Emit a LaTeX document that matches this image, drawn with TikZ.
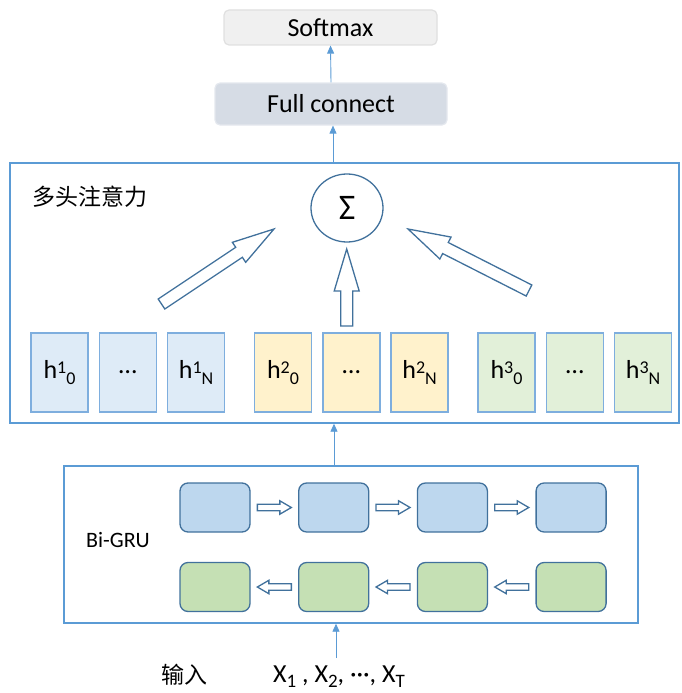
\documentclass[tikz,border=0pt]{standalone}
\usepackage{fontspec}
\setmainfont{Carlito}
\newfontfamily\cjk{Noto Sans CJK SC}
\usetikzlibrary{arrows.meta,calc,shapes.geometric}

\definecolor{frameblue}{HTML}{5B9BD5}
\definecolor{edgeblue}{HTML}{41719C}
\definecolor{cellblue}{HTML}{DEEBF7}
\definecolor{cellyellow}{HTML}{FFF2CC}
\definecolor{cellgreen}{HTML}{E2F0D9}
\definecolor{cellborder}{HTML}{7EAEDE}
\definecolor{grublue}{HTML}{BDD7EE}
\definecolor{grugreen}{HTML}{C5E0B4}
\definecolor{smfill}{HTML}{F0F0F0}
\definecolor{smedge}{HTML}{E0E0E0}
\definecolor{fcfill}{HTML}{D6DCE5}
\definecolor{fcedge}{HTML}{E4E8EE}

\tikzset{
  topbox/.style={rounded corners=5pt, line width=1.2pt, inner sep=0pt,
    minimum height=#1, font=\fontsize{26}{30}\selectfont},
  frame/.style={draw=frameblue, line width=1.4pt, inner sep=0pt},
  cell/.style={draw=cellborder, line width=1.4pt, inner sep=0pt,
    minimum width=57pt, minimum height=79pt, font=\fontsize{26}{30}\selectfont},
  grucell/.style={draw=edgeblue, line width=1.3pt, rounded corners=8pt,
    inner sep=0pt, minimum width=70pt, minimum height=49pt},
  conn/.style={draw=frameblue, line width=0.9pt,
    -{Triangle[length=8pt,width=7pt]}},
  blockarrow/.style={draw=edgeblue, line width=1.3pt, fill=white, line join=miter},
}

% hollow block arrow: start, tip, shaft half width, head half width, head length
\newcommand\hollowarrow[5]{%
  \coordinate (ha-base) at ($(#2)!#5!(#1)$);
  \draw[blockarrow]
    ($(#1)!#3!90:(#2)$) -- ($(ha-base)!#3!90:(#2)$) -- ($(ha-base)!#4!90:(#2)$)
    -- (#2) -- ($(ha-base)!#4!-90:(#2)$) -- ($(ha-base)!#3!-90:(#2)$)
    -- ($(#1)!#3!-90:(#2)$) -- cycle;}

% h label with superscript head index and subscript position
\newcommand\hlab[2]{h\raisebox{5pt}{\fontsize{18}{18}\selectfont #1}%
  \raisebox{-6pt}{\fontsize{18}{18}\selectfont #2}}
\newcommand\xsub[1]{\raisebox{-5pt}{\fontsize{19}{19}\selectfont #1}}

\begin{document}
\begin{tikzpicture}[x=1pt,y=-1pt]
\useasboundingbox (0,0) rectangle (681,693);

% output layers
\node[topbox=35pt, minimum width=213pt, fill=smfill, draw=smedge] (sm) at (330.5,27.5) {Softmax};
\node[topbox=42pt, minimum width=232pt, fill=fcfill, draw=fcedge] (fc) at (331,104) {Full connect};

% multi-head attention block
\node[frame, minimum width=669pt, minimum height=260pt] (att) at (344.5,293) {};
\node[font=\cjk\fontsize{23}{28}\selectfont] (attlab) at (90,197) {多头注意力};
\node[ellipse, draw=edgeblue, line width=1.3pt, minimum width=72pt, minimum height=68pt,
  inner sep=0pt, font=\fontsize{36}{40}\selectfont] (sum) at (347,208) {Σ};

% head outputs
\node[cell, fill=cellblue]   (h10) at (59.5,372.5)  {\hlab{1}{0}};
\node[cell, fill=cellblue]   (h1d) at (127.8,372.5) {…};
\node[cell, fill=cellblue]   (h1n) at (196.1,372.5) {\hlab{1}{N}};
\node[cell, fill=cellyellow] (h20) at (283,372.5)   {\hlab{2}{0}};
\node[cell, fill=cellyellow] (h2d) at (351.3,372.5) {…};
\node[cell, fill=cellyellow] (h2n) at (419.6,372.5) {\hlab{2}{N}};
\node[cell, fill=cellgreen]  (h30) at (506.5,372.5) {\hlab{3}{0}};
\node[cell, fill=cellgreen]  (h3d) at (574.8,372.5) {…};
\node[cell, fill=cellgreen]  (h3n) at (643.1,372.5) {\hlab{3}{N}};

% heads feeding the sum
\coordinate (la-tail) at (161.5,304);  \coordinate (la-tip) at (274,229);
\coordinate (ma-tail) at (346.7,326);  \coordinate (ma-tip) at (346.7,249);
\coordinate (ra-tail) at (529,290.5);  \coordinate (ra-tip) at (408,229);
\hollowarrow{la-tail}{la-tip}{6pt}{12pt}{42pt}
\hollowarrow{ma-tail}{ma-tip}{6pt}{12.5pt}{42pt}
\hollowarrow{ra-tail}{ra-tip}{6.2pt}{12.3pt}{42pt}

% Bi-GRU block
\node[frame, minimum width=574pt, minimum height=157pt] (gru) at (351,544.5) {};
\node[font=\fontsize{22}{26}\selectfont] (grulab) at (118,540) {Bi-GRU};
\foreach \i in {0,1,2,3}{
  \node[grucell, fill=grublue]  (f\i) at (215+118.7*\i,507.5) {};
  \node[grucell, fill=grugreen] (b\i) at (215+118.7*\i,587) {};
}
\foreach \i/\j in {0/1,1/2,2/3}{
  \coordinate (fa\i) at ($(f\i.east)!0.5!(f\j.west)+(-17,0)$);
  \coordinate (fb\i) at ($(f\i.east)!0.5!(f\j.west)+(17,0)$);
  \hollowarrow{fa\i}{fb\i}{3.3pt}{6.7pt}{11.5pt}
  \coordinate (ba\i) at ($(b\i.east)!0.5!(b\j.west)+(17,0)$);
  \coordinate (bb\i) at ($(b\i.east)!0.5!(b\j.west)+(-17,0)$);
  \hollowarrow{ba\i}{bb\i}{3.3pt}{6.7pt}{11.5pt}
}

% input
\node[font=\cjk\fontsize{23}{28}\selectfont] (inlab) at (184.5,675) {输入};
\node[anchor=base west, inner sep=0pt, font=\fontsize{26}{30}\selectfont] (xs) at (273,682)
  {X\xsub{1} , X\xsub{2}, ···, X\xsub{T}};

% data flow
\coordinate (in-top) at (336,658);
\draw[conn] (in-top) -- (in-top |- gru.south);
\coordinate (gru-top) at (334,466);
\draw[conn] (gru-top) -- (gru-top |- att.south);
\coordinate (att-top) at (333,163);
\draw[conn] (att-top) -- (att-top |- fc.south);
\draw[conn] (fc.north) -- (sm.south);
\end{tikzpicture}
\end{document}
